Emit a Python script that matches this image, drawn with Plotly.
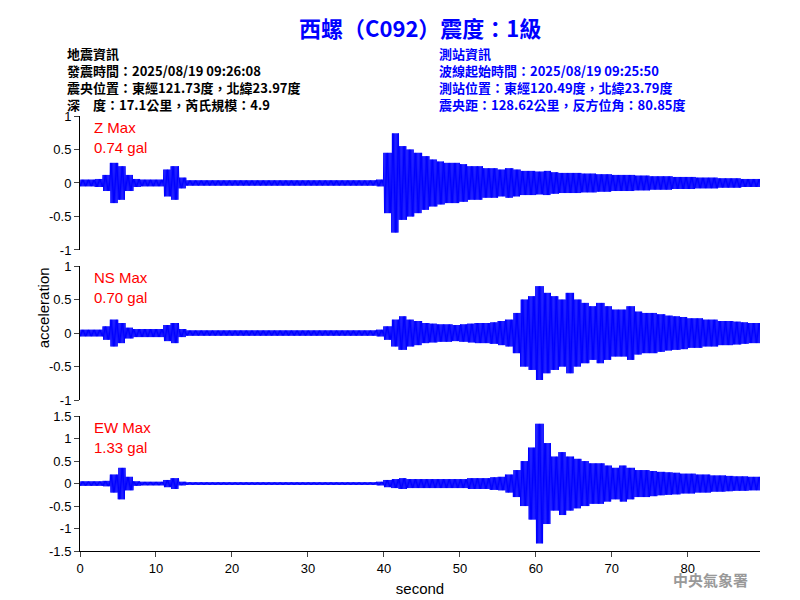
import plotly.graph_objects as go

# per-second peak amplitude (gal), t = 0..89 s
z_env = [0.05, 0.05, 0.06, 0.12, 0.30, 0.25, 0.12, 0.06, 0.05, 0.05,
         0.05, 0.20, 0.25, 0.08, 0.04, 0.04, 0.04, 0.04, 0.04, 0.04,
         0.04, 0.04, 0.04, 0.04, 0.04, 0.04, 0.04, 0.04, 0.04, 0.04,
         0.04, 0.04, 0.04, 0.04, 0.04, 0.04, 0.04, 0.04, 0.04, 0.05,
         0.45, 0.74, 0.55, 0.50, 0.45, 0.40, 0.35, 0.32, 0.30, 0.30,
         0.28, 0.25, 0.25, 0.22, 0.22, 0.20, 0.22, 0.20, 0.18, 0.18,
         0.17, 0.18, 0.16, 0.15, 0.15, 0.15, 0.14, 0.14, 0.13, 0.13,
         0.12, 0.12, 0.12, 0.11, 0.11, 0.10, 0.10, 0.10, 0.09, 0.09,
         0.09, 0.08, 0.08, 0.08, 0.07, 0.07, 0.07, 0.06, 0.06, 0.06]
ns_env = [0.05, 0.05, 0.05, 0.10, 0.20, 0.15, 0.08, 0.06, 0.06, 0.06,
          0.06, 0.12, 0.15, 0.06, 0.04, 0.04, 0.04, 0.04, 0.04, 0.04,
          0.04, 0.04, 0.04, 0.04, 0.04, 0.04, 0.04, 0.04, 0.04, 0.04,
          0.04, 0.04, 0.04, 0.04, 0.04, 0.04, 0.04, 0.04, 0.04, 0.05,
          0.10, 0.20, 0.25, 0.20, 0.18, 0.15, 0.14, 0.13, 0.13, 0.12,
          0.13, 0.14, 0.15, 0.15, 0.16, 0.18, 0.20, 0.30, 0.50, 0.55,
          0.70, 0.60, 0.55, 0.50, 0.60, 0.50, 0.45, 0.40, 0.45, 0.40,
          0.35, 0.35, 0.40, 0.32, 0.30, 0.30, 0.28, 0.26, 0.25, 0.24,
          0.22, 0.22, 0.20, 0.20, 0.18, 0.18, 0.17, 0.16, 0.15, 0.15]
ew_env = [0.05, 0.05, 0.05, 0.06, 0.20, 0.35, 0.15, 0.05, 0.04, 0.04,
          0.04, 0.08, 0.12, 0.04, 0.03, 0.03, 0.03, 0.03, 0.03, 0.03,
          0.03, 0.03, 0.03, 0.03, 0.03, 0.03, 0.03, 0.03, 0.03, 0.03,
          0.03, 0.03, 0.03, 0.03, 0.03, 0.03, 0.03, 0.03, 0.03, 0.04,
          0.08, 0.10, 0.12, 0.10, 0.10, 0.10, 0.10, 0.10, 0.10, 0.10,
          0.10, 0.12, 0.12, 0.12, 0.14, 0.15, 0.20, 0.30, 0.50, 0.80,
          1.33, 0.90, 0.60, 0.70, 0.60, 0.55, 0.50, 0.45, 0.45, 0.40,
          0.35, 0.40, 0.35, 0.30, 0.30, 0.28, 0.26, 0.25, 0.24, 0.22,
          0.22, 0.20, 0.20, 0.18, 0.18, 0.17, 0.16, 0.16, 0.15, 0.15]

components = [("Z Max", "0.74 gal", z_env, [-1, -0.5, 0, 0.5, 1], 1.0),
              ("NS Max", "0.70 gal", ns_env, [-1, -0.5, 0, 0.5, 1], 1.0),
              ("EW Max", "1.33 gal", ew_env, [-1.5, -1, -0.5, 0, 0.5, 1, 1.5], 1.5)]
domains = [(0.692, 1.0), (0.347, 0.655), (0.0, 0.31)]

fig = go.Figure()
step = 0.08
for i, (label, peak, env, ticks, lim) in enumerate(components):
    t, v = [], []
    n = int(len(env) / step)
    for k in range(n):
        tt = k * step
        t.append(tt)
        v.append(env[int(tt)] * (1 if k % 2 == 0 else -1))
    ax = "" if i == 0 else str(i + 1)
    fig.add_trace(go.Scatter(x=t, y=v, mode="lines", line=dict(color="blue", width=1),
                             xaxis="x" + ax, yaxis="y" + ax, showlegend=False))
    fig.layout["yaxis" + ax] = dict(domain=domains[i], range=[-lim, lim], tickvals=ticks,
                                     ticktext=[f"{x:g}" for x in ticks], showline=True,
                                     linecolor="black", ticks="outside", showgrid=False,
                                     zeroline=False, anchor="x" + ax)
    fig.layout["xaxis" + ax] = dict(range=[0, 89.5], anchor="y" + ax, showgrid=False,
                                     zeroline=False, showline=(i == 2), linecolor="black",
                                     ticks="outside" if i == 2 else "", showticklabels=(i == 2),
                                     tickvals=list(range(0, 90, 10)),
                                     title=dict(text="second", font=dict(size=15), standoff=8) if i == 2 else None)
    fig.add_annotation(text=f"{label}<br>{peak}", xref="paper", yref="paper", x=0.017,
                       y=domains[i][1] - 0.003, xanchor="left", yanchor="top", align="left",
                       showarrow=False, font=dict(color="red", size=15))

cjk = "Noto Sans CJK TC"
fig.add_annotation(text="<b>西螺（C092）震度：1級</b>", xref="paper", yref="paper", x=0.5, y=1.245,
                   xanchor="center", yanchor="top", showarrow=False,
                   font=dict(color="blue", size=22, family=cjk))
fig.add_annotation(text="<b>地震資訊<br>發震時間：2025/08/19 09:26:08<br>震央位置：東經121.73度，北緯23.97度"
                        "<br>深　度：17.1公里，芮氏規模：4.9</b>",
                   xref="paper", yref="paper", x=-0.022, y=1.17, xanchor="left", yanchor="top",
                   align="left", showarrow=False, font=dict(color="black", size=13, family=cjk))
fig.add_annotation(text="<b>測站資訊<br>波線起始時間：2025/08/19 09:25:50<br>測站位置：東經120.49度，北緯23.79度"
                        "<br>震央距：128.62公里，反方位角：80.85度</b>",
                   xref="paper", yref="paper", x=0.525, y=1.17, xanchor="left", yanchor="top",
                   align="left", showarrow=False, font=dict(color="blue", size=13, family=cjk))
fig.add_annotation(text="acceleration", xref="paper", yref="paper", x=-0.07, y=0.56,
                   textangle=-90, showarrow=False, font=dict(size=15, color="black"))
fig.add_annotation(text="<b>中央氣象署</b>", xref="paper", yref="paper", x=0.985, y=-0.095,
                   xanchor="right", showarrow=False, font=dict(size=15, color="#999999", family=cjk))

fig.update_layout(width=800, height=600, plot_bgcolor="white", paper_bgcolor="white",
                  margin=dict(l=72, r=48, t=108, b=57),
                  font=dict(family="Liberation Sans, Arial", size=13, color="black"))
fig.write_html("out.html")
